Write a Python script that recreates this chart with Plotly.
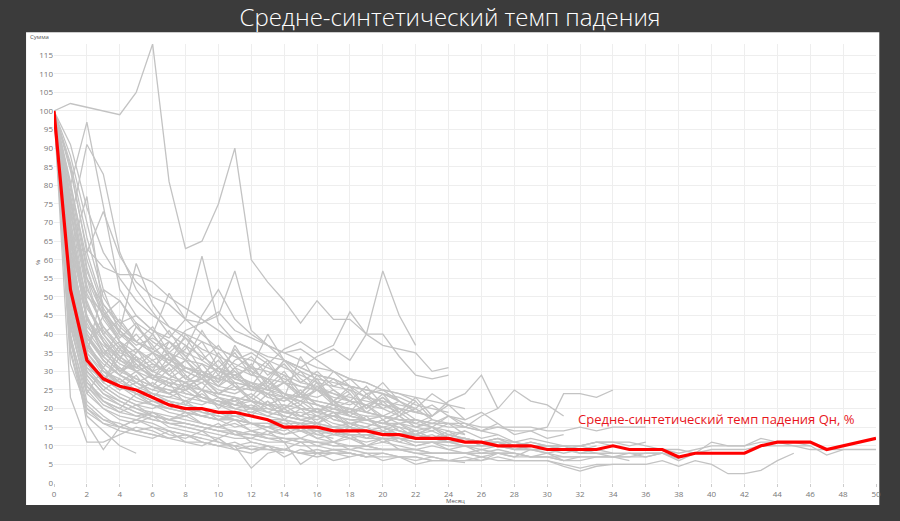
import plotly.graph_objects as go

# Месяц 0..50
months = list(range(51))

# Средне-синтетический темп падения, %
red = [100, 52, 33, 28, 26, 25, 23, 21, 20, 20, 19, 19, 18, 17, 15, 15, 15, 14, 14, 14,
       13, 13, 12, 12, 12, 11, 11, 10, 10, 10, 9, 9, 9, 9, 10, 9, 9, 9, 7, 8,
       8, 8, 8, 10, 11, 11, 11, 9, 10, 11, 12]

# Отдельные скважины (значения по месяцам, начиная с 0)
w01 = [100, 102, 101, 100, 99, 105, 118, 81, 63, 65, 75, 90, 60, 54, 49, 43, 49, 44, 44, 40, 40, 34, 29, 28, 29]
w02 = [100, 80, 97, 74, 52, 45, 41, 38, 35, 33, 30, 28, 27, 25, 23, 22, 21, 19, 18, 17, 16, 15, 14]
w03 = [100, 70, 91, 83, 62, 52, 46, 40, 37, 34, 31, 29, 27, 26, 24, 22, 21, 20, 18, 17]
w04 = [100, 62, 77, 46, 38, 33, 30, 28, 27, 25, 23, 21, 22, 19, 18, 17, 16]
w05 = [100, 64, 62, 73, 61, 54, 50, 48, 44, 43, 46, 41, 39, 37, 35, 36, 33, 30, 28, 27, 25, 24, 22]
w06 = [100, 91, 74, 62, 55, 49, 45, 42, 40, 38, 36, 34, 33, 31, 29, 27, 26, 24, 23, 22, 21, 20, 19, 18]
w07 = [100, 84, 63, 58, 56, 56, 54, 50, 47, 44, 41, 38, 36, 34, 33, 31, 29, 28, 26, 25, 24, 22]
w08 = [100, 76, 52, 45, 41, 59, 48, 42, 39, 36, 34, 32, 30, 28, 27, 26, 25, 24, 22, 21]
w09 = [100, 72, 55, 48, 43, 45, 41, 39, 44, 61, 43, 38, 36, 33, 31, 29, 27, 26, 25, 23, 22, 21, 20]
w10 = [100, 66, 50, 46, 41, 37, 39, 36, 41, 43, 45, 57, 41, 37, 33, 31, 29, 28, 26, 25, 24, 23, 21, 20, 19]
w11 = [100, 58, 42, 37, 33, 31, 29, 28, 31, 29, 27, 31, 29, 28, 33, 31, 34, 36, 33, 40, 57, 45, 37]
w12 = [100, 50, 38, 42, 36, 33, 35, 38, 34, 30, 28, 33, 35, 32, 36, 38, 35, 37, 46, 40, 37, 36, 35, 30, 31]
w13 = [100, 88, 70, 52, 49, 43, 40, 51, 44, 40, 36, 34, 31, 30, 28, 26, 25, 23, 22, 21, 20]
w14 = [100, 80, 60, 47, 40, 38, 35, 33, 36, 45, 52, 44, 40, 37, 35, 33, 31, 30, 28, 27, 25, 24, 23, 22, 21, 20]
w15 = [100, 75, 55, 45, 49, 42, 38, 35, 33, 32, 30, 29, 31, 40, 33, 30, 28, 27, 26, 25, 24, 22]
w16 = [100, 23, 11, 11, 13, 15, 14, 12, 13, 11, 10, 9, 10, 9, 8]
w17 = [100, 35, 18, 14, 10, 8]
w18 = [100, 40, 16, 9, 15, 17, 16, 14, 13, 12, 11, 10, 11, 10]
w19 = [100, 48, 30, 25, 22, 20, 19, 18, 17, 16, 15, 14, 13, 13, 12, 12, 11, 11, 10, 10, 9, 9, 9, 8, 8, 8, 7]
w20 = [100, 52, 35, 30, 26, 24, 22, 21, 20, 19, 18, 17, 16, 16, 15, 15, 14, 14, 13, 13, 12, 12, 11, 11, 11, 10, 10, 10, 9, 9]
w21 = [100, 45, 28, 22, 20, 24, 21, 19, 18, 20, 17, 15, 16, 14, 13, 15, 12, 11, 12, 10, 11, 10, 9, 10, 9, 8, 9, 8, 8, 7, 7, 6, 7]
w22 = [100, 60, 38, 30, 28, 25, 27, 24, 22, 21, 23, 20, 19, 18, 20, 17, 16, 15, 16, 14, 15, 13, 14, 12, 13, 12, 11]
w23 = [100, 68, 45, 36, 30, 32, 28, 26, 29, 25, 24, 26, 22, 21, 23, 20, 19, 21, 18, 17, 16, 18, 15, 14, 16, 13]
w24 = [100, 42, 25, 20, 18, 17, 19, 16, 15, 14, 16, 13, 12, 14, 11, 12, 10, 11, 9, 10, 9]
w25 = [100, 55, 33, 27, 34, 30, 26, 25, 23, 22, 21, 19, 20, 18, 17, 16, 18, 15, 14, 15, 13, 12]
w26 = [100, 38, 20, 17, 16, 14, 15, 13, 12, 14, 11, 10, 4, 8, 9, 8, 7, 8, 7]
w27 = [100, 47, 26, 22, 20, 18, 19, 17, 16, 15, 14, 13, 14, 12, 11, 5, 8, 9, 8, 7]
w28 = [100, 63, 40, 33, 29, 27, 25, 28, 24, 23, 22, 21, 20, 24, 19, 18, 20, 17, 16, 17, 15, 16, 14, 15, 13, 14, 12, 13, 11, 12, 11, 10]
w29 = [100, 58, 36, 31, 27, 30, 26, 24, 27, 23, 21, 22, 20, 19, 21, 18, 17, 19, 16, 15, 17, 14, 13, 15, 12, 12, 11, 12, 10, 11, 10, 9, 10, 9]
w30 = [100, 70, 48, 40, 34, 31, 33, 29, 27, 30, 26, 25, 27, 23, 22, 24, 21, 20, 22, 19, 18, 20, 17, 16, 18, 15, 14, 16, 13, 14, 12, 13]
w31 = [100, 50, 31, 26, 23, 21, 20, 22, 19, 18, 17, 19, 16, 15, 17, 14, 16, 13, 15, 12, 14, 11, 13, 12, 11, 12, 10, 11, 9, 10, 9, 10, 8, 9, 8]
w32 = [100, 44, 27, 23, 21, 19, 18, 17, 18, 16, 15, 16, 14, 15, 13, 14, 12, 13, 12, 11, 12, 11, 10, 11, 10, 10,
       9, 10, 9, 9, 8, 9, 8, 8, 8, 8, 8, 8, 7, 8, 9, 9, 9, 10, 10, 10, 9, 9, 9, 9, 9]
w33 = [100, 50, 32, 27, 24, 22, 21, 20, 19, 18, 17, 17, 16, 15, 15, 14, 14, 13, 13, 12, 12, 12, 11, 11, 11, 10,
       10, 10, 10, 9, 9, 9, 9, 9, 10, 9, 9, 9, 8, 9, 10, 10, 10, 11, 11, 11, 10, 7.5, 9]
w34 = [100, 40, 22, 18, 15, 14, 13, 12, 13, 11, 10, 11, 9, 10, 9, 8, 9, 8, 8, 7, 8, 7, 6, 7, 6, 6,
       7, 6, 6, 6, 6, 5, 4, 5, 5, 5, 5, 6, 4.5, 6, 5, 2.5, 2.5, 3.4, 6, 8]
w35 = [100, 58, 37, 30, 27, 25, 24, 22, 21, 20, 19, 18, 18, 17, 16, 16, 15, 15, 14, 14, 13, 13, 12, 12, 12, 11,
       11, 11, 10, 10, 10, 10, 10, 11, 11, 11, 10, 9, 9, 8, 11, 10, 10, 12, 11, 10, 10]
w36 = [100, 46, 29, 24, 22, 20, 18, 17, 16, 15, 14, 14, 13, 12, 12, 11, 11, 10, 10, 10, 9, 9, 9, 8, 8, 8,
       8, 8, 8, 7, 7, 7, 7, 7, 7, 7, 8, 8, 6, 8, 8, 8, 8]
w37 = [100, 42, 26, 21, 19, 18, 17, 16, 16, 15, 14, 13, 13, 12, 12, 11, 11, 10, 10, 9, 9, 9, 8, 8, 8, 8,
       7, 8, 7, 7, 7, 6, 6, 7, 7, 7, 7, 8, 6.5]
w38 = [100, 55, 35, 29, 26, 24, 23, 22, 21, 20, 19, 19, 18, 17, 17, 16, 16, 15, 15, 14, 14, 13, 13, 12, 12, 12,
       11, 11, 11, 10, 10, 10, 10, 11, 11, 10, 11]
w39 = [100, 65, 44, 36, 32, 30, 28, 27, 26, 25, 24, 23, 22, 21, 21, 20, 20, 19, 19, 18, 18, 17, 17, 16, 16, 16,
       15, 15, 15, 15, 14, 14, 15, 14, 15, 15, 15]
w40 = [100, 60, 40, 34, 30, 28, 26, 25, 24, 23, 22, 21, 20, 20, 19, 19, 18, 18, 17, 17, 16, 16, 15, 16, 15, 15,
       14, 15, 14, 14, 15, 24, 24, 23, 25]
w41 = [100, 38, 21, 17, 15, 14, 13, 12, 11, 11, 10, 10, 9, 9, 9, 8, 8, 8, 8, 7, 7, 7, 7, 6, 6, 6,
       6, 7, 6, 6, 6, 4.5, 3.2, 4.5, 5, 5, 5]
w42 = [100, 48, 30, 26, 23, 21, 22, 20, 19, 18, 17, 18, 16, 16, 15, 15, 14, 14, 13, 13, 13, 12, 12, 12, 11, 11,
       11, 12, 11, 10, 10, 10, 9, 10]
w43 = [100, 54, 34, 28, 25, 27, 24, 23, 25, 22, 21, 23, 20, 22, 19, 21, 18, 20, 19, 17, 18, 16, 17, 15, 18, 16, 14, 13]
w44 = [100, 62, 41, 35, 38, 33, 30, 32, 28, 27, 29, 26, 25, 27, 24, 23, 25, 22, 21, 23, 20, 22, 19, 18, 22, 24, 29, 20]
w45 = [100, 57, 37, 32, 29, 27, 29, 26, 25, 27, 23, 22, 24, 21, 20, 22, 19, 18, 20, 17, 16, 18, 15, 17, 16, 15,
       18, 20, 25, 22, 21, 18]
w46 = [100, 66, 44, 38, 34, 36, 32, 30, 33, 29, 28, 30, 26, 25, 27, 24, 23, 25, 22, 21, 23, 20, 19, 21, 18, 17, 19, 16]
w47 = [100, 44, 27, 22, 19, 21, 18, 17, 19, 16, 15, 17, 14, 13, 15, 12, 14, 11, 13, 10, 12, 9, 8, 7, 6, 7,
       6, 8, 7, 9, 8, 6]
w48 = [100, 52, 33, 28, 31, 27, 25, 24, 26, 23, 22, 21, 23, 20, 19, 18, 20, 17, 16, 15, 17, 14, 13, 12, 14, 11]
w49 = [100, 74, 51, 42, 37, 34, 31, 35, 30, 28, 26, 29, 25, 24, 22, 25, 21, 20, 19, 21, 18, 17, 16]
w50 = [100, 81, 58, 44, 38, 35, 40, 34, 31, 29, 33, 28, 26, 24, 27, 23, 22, 21, 20]
w51 = [100, 36, 19, 16, 14, 13, 12, 14, 11, 10, 12, 9, 8, 10, 7, 9, 8, 6, 7, 8, 6, 7, 5, 6]
w52 = [100, 69, 43, 35, 31, 28, 26, 24, 27, 23, 22, 20, 21, 19, 18, 17, 18, 16, 15, 14, 15, 13, 14, 12, 13, 12,
       11, 12, 10, 11, 10, 9, 10, 11, 10, 9]
w53 = [100, 59, 39, 33, 29, 26, 24, 23, 22, 24, 21, 20, 19, 21, 18, 17, 16, 18, 15, 14, 13, 15, 12, 13, 11, 12,
       10, 11, 9, 10, 9, 8, 9, 8, 7, 8, 7, 8]
w54 = [100, 46, 30, 25, 28, 24, 22, 21, 20, 18, 19, 17, 16, 15, 14, 16, 13, 14, 12, 13, 11, 12, 10, 11, 9, 10,
       8, 9, 8, 7, 8, 7, 7, 7, 7, 6]
w55 = [100, 77, 53, 41, 36, 40, 35, 32, 30, 28, 31, 27, 26, 24, 23, 22, 25, 21, 20, 19, 18, 17, 16, 15, 14, 13]
w56 = [100, 86, 66, 50, 43, 38, 35, 33, 31, 30, 28, 27, 26, 25, 24, 23, 22, 21, 20, 19, 18]
w57 = [100, 43, 24, 20, 17, 16, 18, 15, 14, 13, 12, 14, 11, 10, 9, 11, 8, 9, 8, 7]
w58 = [100, 61, 39, 34, 30, 33, 29, 27, 26, 28, 24, 23, 22, 21, 23, 20, 19, 18, 17, 16, 15, 14, 13, 14, 12]
w59 = [100, 78, 55, 40, 35, 33, 30]
w60 = [100, 85, 62, 48, 42, 38, 36, 33, 31]
w61 = [100, 32, 20, 16, 15, 17, 15, 14, 13, 12]
w62 = [100, 56, 35, 52, 40, 36, 33, 35, 31, 29, 28]
w63 = [100, 73, 48, 38, 33, 30, 32, 29, 27, 28, 25, 24, 26, 23]
w64 = [100, 39, 24, 31, 26, 23, 21, 20, 22, 19, 18, 17, 16, 15, 16, 14, 13, 12]
w65 = [100, 49, 29, 24, 21, 19, 17, 16, 15, 14, 13, 12, 12, 11, 11, 10, 10, 9, 9, 8, 8, 7, 7, 6, 6, 5.5]
w66 = [100, 67, 47, 40, 44, 38, 42, 35, 39, 33, 37, 31, 34, 29, 32, 27, 30, 26, 28, 24, 25, 22]
w67 = [100, 59, 45, 34, 41, 36, 30, 38, 33, 28, 35, 30, 26, 32, 27, 24, 29, 25, 22, 26, 21, 19]
w68 = [100, 71, 44, 39, 33, 42, 37, 32, 40, 35, 29, 36, 31, 27, 33, 28, 25, 30, 26, 23, 27, 22, 20, 24, 21]
w69 = [100, 53, 36, 45, 38, 31, 35, 29, 33, 41, 34, 28, 32, 26, 30, 24, 28, 22, 25, 20, 23, 19]
w70 = [100, 62, 49, 38, 30, 35, 40, 34, 28, 32, 27, 37, 30, 25, 29, 23, 27, 21, 24, 19, 22, 18, 20, 17]
w71 = [100, 47, 33, 27, 36, 30, 26, 31, 25, 29, 24, 27, 22, 26, 20, 24, 19, 22, 18, 21, 17, 19, 16, 18]
w72 = [100, 56, 40, 33, 29, 34, 28, 32, 37, 30, 26, 31, 25, 28, 23, 34, 27, 22, 26, 20, 24, 19, 23, 18, 21, 17]
w73 = [100, 79, 57, 46, 39, 43, 36, 41, 34, 38, 31, 35, 29, 33, 27, 30, 25, 28, 24]
w74 = [100, 44, 31, 28, 25, 29, 23, 27, 21, 25, 20, 23, 18, 22, 17, 20, 16, 19, 15, 18, 14, 16, 13, 15, 12, 14]
w75 = [100, 65, 38, 31, 37, 32, 28, 34, 29, 25, 31, 26, 23, 28, 24, 21, 26, 22, 19, 24, 20, 18, 22, 17]

wells = [w01, w02, w03, w04, w05, w06, w07, w08, w09, w10, w11, w12, w13, w14, w15, w16, w17, w18, w19, w20,
         w21, w22, w23, w24, w25, w26, w27, w28, w29, w30, w31, w32, w33, w34, w35, w36, w37, w38, w39, w40,
         w41, w42, w43, w44, w45, w46, w47, w48, w49, w50, w51, w52, w53, w54, w55, w56, w57, w58, w59, w60,
         w61, w62, w63, w64, w65, w66, w67, w68, w69, w70, w71, w72, w73, w74, w75]

fig = go.Figure()

# серые линии по скважинам
for w in wells:
    fig.add_trace(go.Scatter(x=months[:len(w)], y=w, mode="lines",
                             line=dict(color="#c3c3c3", width=1.3),
                             hoverinfo="skip", showlegend=False))

# средняя кривая
fig.add_trace(go.Scatter(x=months, y=red, mode="lines",
                         line=dict(color="#ff0000", width=3.2),
                         showlegend=False))

fig.update_layout(
    width=900, height=521, autosize=False,
    margin=dict(l=54, r=24, t=44, b=38),
    paper_bgcolor="#3b3b3b",
    plot_bgcolor="white",
    font=dict(family="Open Sans", color="#666666", size=8),
    title=dict(text="Средне-синтетический темп падения", x=0.5, xanchor="center",
               y=0.966, yanchor="middle",
               font=dict(family="Open Sans", size=24, color="white", weight=300)),
)

# белая подложка под весь блок графика
fig.add_shape(type="rect", xref="paper", yref="paper",
              x0=-0.034, x1=1.004, y0=-0.05, y1=1.027,
              fillcolor="white", line_width=0, layer="below")

fig.update_xaxes(range=[0, 50], dtick=2, tick0=0, showgrid=True, gridcolor="#eeeeee",
                 zeroline=False, showline=False, ticks="outside", ticklen=3,
                 tickcolor="#cccccc", tickfont=dict(size=8, color="#777777"))
fig.update_yaxes(range=[0, 118], dtick=5, tick0=0, showgrid=True, gridcolor="#eeeeee",
                 zeroline=False, showline=False, tickfont=dict(size=8, color="#777777"))

fig.add_annotation(text="Средне-синтетический темп падения Qн, %", x=40.3, y=17.1,
                   xref="x", yref="y", showarrow=False,
                   font=dict(family="Open Sans", size=13, color="#e8161c"))
fig.add_annotation(text="Сумма", x=-0.032, y=1.016, xref="paper", yref="paper",
                   xanchor="left", yanchor="middle", showarrow=False,
                   font=dict(size=6, color="#555555"))
fig.add_annotation(text="%", x=-0.026, y=0.503, xref="paper", yref="paper",
                   textangle=-90, yanchor="middle", showarrow=False,
                   font=dict(size=6, color="#555555"))
fig.add_annotation(text="Месяц", x=0.488, y=-0.042, xref="paper", yref="paper",
                   yanchor="middle", showarrow=False, font=dict(size=6, color="#555555"))

# убрать отступ страницы и панель инструментов
fig.write_html("out.html", config={"displayModeBar": False},
               post_script="document.body.style.margin='0';"
                           "document.body.style.overflow='hidden';"
                           "document.body.style.background='#3b3b3b';")
